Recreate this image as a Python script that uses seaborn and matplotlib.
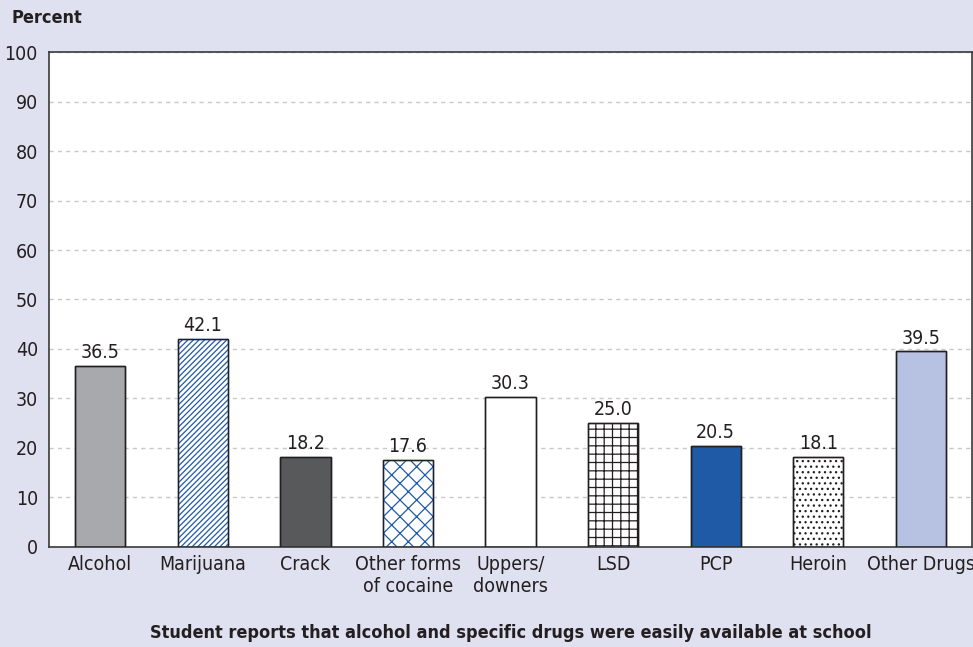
import matplotlib
matplotlib.use('Agg')
import matplotlib.pyplot as plt
import seaborn as sns
import pandas as pd

# Data
drugs = ['Alcohol', 'Marijuana', 'Crack', 'Other forms\nof cocaine', 'Uppers/\ndowners',
         'LSD', 'PCP', 'Heroin', 'Other Drugs']
percent = [36.5, 42.1, 18.2, 17.6, 30.3, 25.0, 20.5, 18.1, 39.5]
fills = ['#a7a9ac', 'white', '#58595b', 'white', 'white', 'white', '#1f5aa6', 'white', '#b7c1e1']
hatches = [None, '//////', None, 'xx', None, '++', None, '...', None]
hatch_colors = [None, '#1f5aa6', None, '#1f5aa6', None, '#231f20', None, '#231f20', None]

bg = '#dfe1f0'
dark = '#231f20'

sns.set_theme(style='white')
plt.rcParams['font.family'] = ['DejaVu Sans']
plt.rcParams['font.stretch'] = 'condensed'
plt.rcParams['hatch.linewidth'] = 0.9

df = pd.DataFrame({'drug': drugs, 'percent': percent})

fig = plt.figure(figsize=(9.73, 6.47), dpi=100, facecolor=bg)
ax = fig.add_axes([0.0504, 0.1546, 0.9486, 0.765])
ax.set_facecolor('white')

# filled bars
sns.barplot(data=df, x='drug', y='percent', hue='drug', palette=fills, legend=False,
            width=0.49, saturation=1, linewidth=1, edgecolor=dark, ax=ax, zorder=2)
for patch, h, hc in zip(ax.patches, hatches, hatch_colors):
    if h:
        patch.set_hatch(h)
        patch.set_edgecolor(hc)

# outlines on top so hatched bars keep a dark border
n = len(ax.patches)
sns.barplot(data=df, x='drug', y='percent', width=0.49, fill=False, color=dark,
            linewidth=1, ax=ax, zorder=3)
for patch in ax.patches[n:]:
    patch.set_edgecolor(dark)
    patch.set_facecolor('none')

for x, v in enumerate(percent):
    ax.text(x, v + 0.8, f'{v:.1f}', ha='center', va='bottom', fontsize=14, color=dark)

ax.set_ylim(0, 100)
ax.set_xlim(-0.5, len(drugs) - 0.5)
ax.set_yticks(range(0, 101, 10))
ax.yaxis.grid(True, linestyle=(0, (3, 3)), color='#c8c8c8', linewidth=1)
ax.set_axisbelow(True)
ax.tick_params(axis='y', length=0, labelsize=14, colors=dark, pad=8)
ax.tick_params(axis='x', length=0, labelsize=14, colors=dark, pad=6)
for s in ax.spines.values():
    s.set_visible(True)
    s.set_color('#3a3a3a')
    s.set_linewidth(1.2)

ax.set_ylabel('')
ax.set_xlabel('Student reports that alcohol and specific drugs were easily available at school',
              fontsize=13, fontweight='bold', color=dark, labelpad=20)
fig.text(0.012, 0.972, 'Percent', fontsize=13, fontweight='bold', color=dark, va='center')

fig.savefig('out.png', dpi=100, facecolor=bg)
